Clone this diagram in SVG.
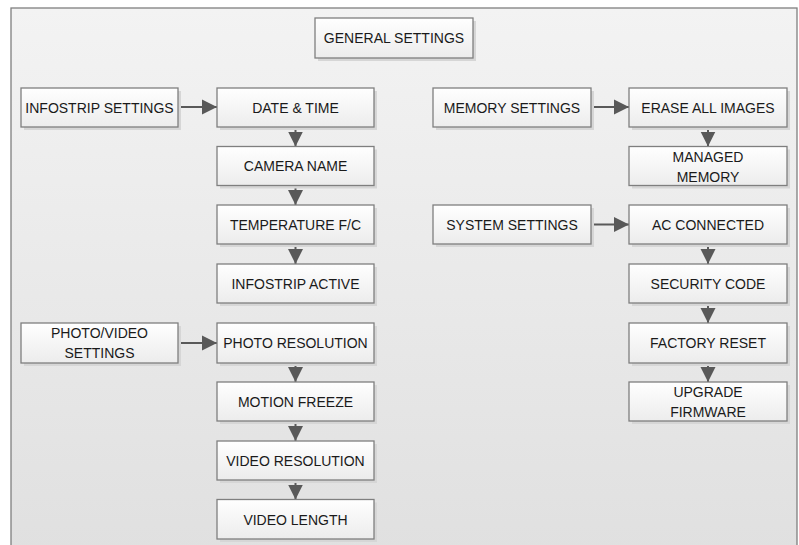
<svg xmlns="http://www.w3.org/2000/svg" width="799" height="545" viewBox="0 0 799 545">
<defs>
<linearGradient id="bg" x1="0" y1="0" x2="0" y2="1">
<stop offset="0" stop-color="#f3f3f3"/>
<stop offset="1" stop-color="#e0e0e0"/>
</linearGradient>
<linearGradient id="bx" x1="0" y1="0" x2="0" y2="1">
<stop offset="0" stop-color="#ffffff"/>
<stop offset="1" stop-color="#ececec"/>
</linearGradient>
<marker id="ah" markerUnits="userSpaceOnUse" markerWidth="16" markerHeight="16" refX="15" refY="7.5" orient="auto" viewBox="0 0 16 15">
<path d="M0,0 L15,7.5 L0,15 Z" fill="#595959"/>
</marker>
</defs>
<style>
.sh{fill:#d6d6d6;}
.b{fill:url(#bx);stroke:#7f7f7f;stroke-width:1.3;}
.t{font-family:"Liberation Sans",Arial,sans-serif;font-size:14px;fill:#1a1a1a;text-anchor:middle;}
.c{stroke:#595959;stroke-width:2;fill:none;marker-end:url(#ah);}
</style>
<rect x="11" y="8" width="786" height="545" fill="url(#bg)" stroke="#7f7f7f" stroke-width="1.3"/>

<g id="connectors">
<line class="c" x1="178" y1="107" x2="217" y2="107"/>
<line class="c" x1="178" y1="343" x2="217" y2="343"/>
<line class="c" x1="591" y1="107" x2="629" y2="107"/>
<line class="c" x1="591" y1="224.5" x2="629" y2="224.5"/>
<line class="c" x1="295.5" y1="127" x2="295.5" y2="146.5"/>
<line class="c" x1="295.5" y1="185.5" x2="295.5" y2="205"/>
<line class="c" x1="295.5" y1="244" x2="295.5" y2="264"/>
<line class="c" x1="295.5" y1="363" x2="295.5" y2="382"/>
<line class="c" x1="295.5" y1="421" x2="295.5" y2="441"/>
<line class="c" x1="295.5" y1="480" x2="295.5" y2="499.5"/>
<line class="c" x1="708" y1="127" x2="708" y2="146.5"/>
<line class="c" x1="708" y1="244" x2="708" y2="264"/>
<line class="c" x1="708" y1="303" x2="708" y2="323"/>
<line class="c" x1="708" y1="363" x2="708" y2="382"/>
</g>

<g id="general-settings"><rect class="sh" x="318" y="21" width="158" height="40"/><rect class="b" x="315" y="18" width="158" height="40"/><text class="t" x="394" y="43">GENERAL SETTINGS</text></g>

<g id="infostrip-settings"><rect class="sh" x="24" y="91" width="157" height="39"/><rect class="b" x="21" y="88" width="157" height="39"/><text class="t" x="99.5" y="112.5">INFOSTRIP SETTINGS</text></g>
<g id="date-time"><rect class="sh" x="220" y="91" width="157" height="39"/><rect class="b" x="217" y="88" width="157" height="39"/><text class="t" x="295.5" y="112.5">DATE &amp; TIME</text></g>
<g id="camera-name"><rect class="sh" x="220" y="149.5" width="157" height="39"/><rect class="b" x="217" y="146.5" width="157" height="39"/><text class="t" x="295.5" y="171">CAMERA NAME</text></g>
<g id="temperature"><rect class="sh" x="220" y="208" width="157" height="39"/><rect class="b" x="217" y="205" width="157" height="39"/><text class="t" x="295.5" y="229.5">TEMPERATURE F/C</text></g>
<g id="infostrip-active"><rect class="sh" x="220" y="267" width="157" height="39"/><rect class="b" x="217" y="264" width="157" height="39"/><text class="t" x="295.5" y="288.5">INFOSTRIP ACTIVE</text></g>

<g id="photo-video-settings"><rect class="sh" x="24" y="326" width="157" height="40"/><rect class="b" x="21" y="323" width="157" height="40"/><text class="t" x="99.5" y="338">PHOTO/VIDEO</text><text class="t" x="99.5" y="358">SETTINGS</text></g>
<g id="photo-resolution"><rect class="sh" x="220" y="326" width="157" height="40"/><rect class="b" x="217" y="323" width="157" height="40"/><text class="t" x="295.5" y="348">PHOTO RESOLUTION</text></g>
<g id="motion-freeze"><rect class="sh" x="220" y="385" width="157" height="39"/><rect class="b" x="217" y="382" width="157" height="39"/><text class="t" x="295.5" y="406.5">MOTION FREEZE</text></g>
<g id="video-resolution"><rect class="sh" x="220" y="444" width="157" height="39"/><rect class="b" x="217" y="441" width="157" height="39"/><text class="t" x="295.5" y="465.5">VIDEO RESOLUTION</text></g>
<g id="video-length"><rect class="sh" x="220" y="502.5" width="157" height="39.5"/><rect class="b" x="217" y="499.5" width="157" height="39.5"/><text class="t" x="295.5" y="524.5">VIDEO LENGTH</text></g>

<g id="memory-settings"><rect class="sh" x="436" y="91" width="158" height="39"/><rect class="b" x="433" y="88" width="158" height="39"/><text class="t" x="512" y="112.5">MEMORY SETTINGS</text></g>
<g id="erase-all-images"><rect class="sh" x="632" y="91" width="158" height="39"/><rect class="b" x="629" y="88" width="158" height="39"/><text class="t" x="708" y="112.5">ERASE ALL IMAGES</text></g>
<g id="managed-memory"><rect class="sh" x="632" y="149.5" width="158" height="39"/><rect class="b" x="629" y="146.5" width="158" height="39"/><text class="t" x="708" y="162">MANAGED</text><text class="t" x="708" y="182">MEMORY</text></g>

<g id="system-settings"><rect class="sh" x="436" y="208" width="158" height="39"/><rect class="b" x="433" y="205" width="158" height="39"/><text class="t" x="512" y="229.5">SYSTEM SETTINGS</text></g>
<g id="ac-connected"><rect class="sh" x="632" y="208" width="158" height="39"/><rect class="b" x="629" y="205" width="158" height="39"/><text class="t" x="708" y="229.5">AC CONNECTED</text></g>
<g id="security-code"><rect class="sh" x="632" y="267" width="158" height="39"/><rect class="b" x="629" y="264" width="158" height="39"/><text class="t" x="708" y="288.5">SECURITY CODE</text></g>
<g id="factory-reset"><rect class="sh" x="632" y="326" width="158" height="40"/><rect class="b" x="629" y="323" width="158" height="40"/><text class="t" x="708" y="348">FACTORY RESET</text></g>
<g id="upgrade-firmware"><rect class="sh" x="632" y="385" width="158" height="39"/><rect class="b" x="629" y="382" width="158" height="39"/><text class="t" x="708" y="396.5">UPGRADE</text><text class="t" x="708" y="417">FIRMWARE</text></g>
</svg>
